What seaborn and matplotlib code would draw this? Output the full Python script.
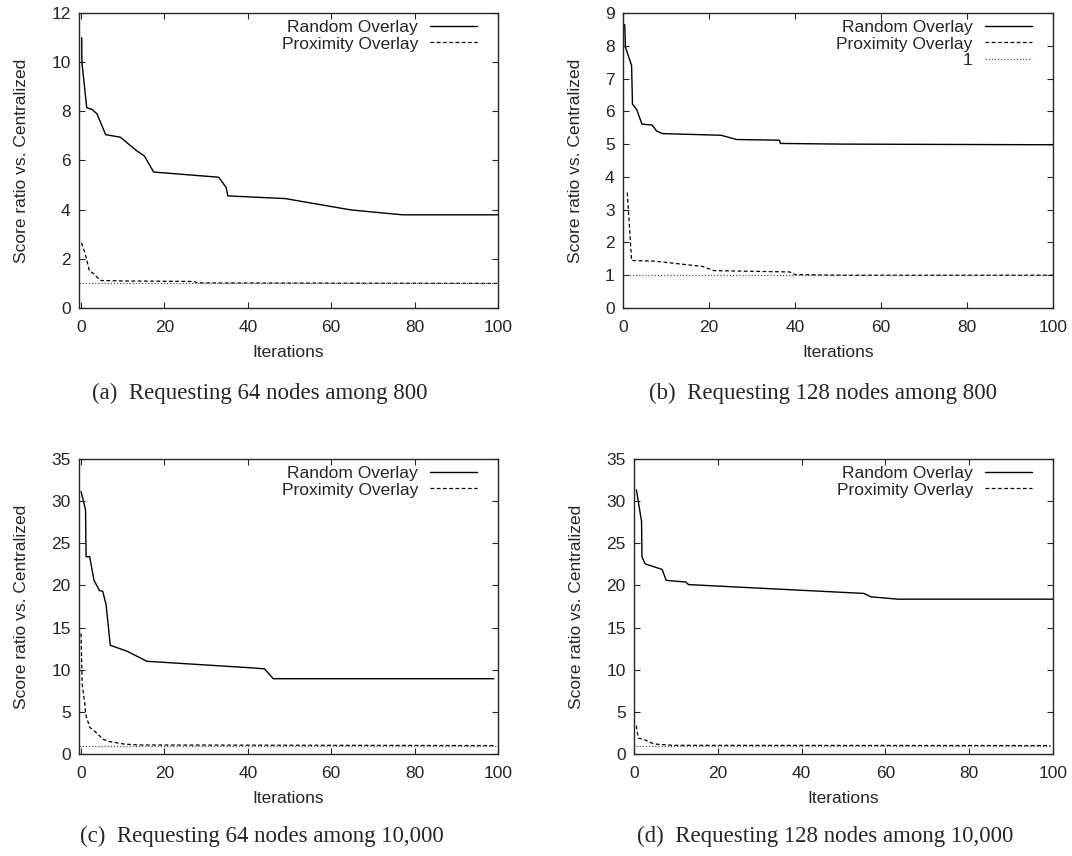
"""
Score ratio of overlay-based node selection vs. the centralized solution,
four panels (64/128 nodes among 800 / 10,000), gnuplot-like look.
"""
import seaborn as sns
import matplotlib.pyplot as plt

# (a) Requesting 64 nodes among 800
a_rand_x = [0.15, 0.2, 1.35, 2.6, 3.8, 5.9, 9.4, 13.3, 15.2, 17.4, 33.0, 34.8, 35.2, 49.0, 64.7, 77.1, 100.0]
a_rand_y = [11.0, 10.0, 8.15, 8.08, 7.9, 7.05, 6.95, 6.4, 6.18, 5.53, 5.32, 4.9, 4.56, 4.45, 3.99, 3.79, 3.79]
a_prox_x = [0.1, 1.0, 2.0, 3.0, 4.6, 10.0, 27.0, 28.0, 100.0]
a_prox_y = [2.65, 2.2, 1.5, 1.4, 1.12, 1.1, 1.08, 1.02, 1.0]
a_one_x = [-0.5, 100.0]

# (b) Requesting 128 nodes among 800
b_rand_x = [0.4, 0.56, 2.0, 2.2, 3.2, 4.4, 6.8, 7.8, 9.2, 22.8, 26.4, 36.4, 36.6, 51.0, 100.0]
b_rand_y = [8.65, 7.96, 7.4, 6.22, 6.05, 5.61, 5.58, 5.4, 5.32, 5.27, 5.14, 5.12, 5.02, 5.0, 4.98]
b_prox_x = [1.0, 2.0, 7.2, 18.4, 21.2, 38.8, 40.0, 51.0, 100.0]
b_prox_y = [3.52, 1.45, 1.43, 1.27, 1.14, 1.10, 1.02, 1.0, 1.0]
b_one_x = [0.0, 100.0]

# (c) Requesting 64 nodes among 10,000
c_rand_x = [0.0, 1.07, 1.2, 2.07, 3.1, 4.4, 5.2, 6.0, 7.0, 11.0, 15.8, 41.6, 44.0, 46.1, 99.0]
c_rand_y = [31.15, 28.97, 23.4, 23.4, 20.6, 19.4, 19.3, 17.7, 12.9, 12.2, 11.0, 10.2, 10.1, 8.93, 8.93]
c_prox_x = [0.0, 0.25, 0.9, 1.07, 2.07, 3.55, 4.4, 5.0, 6.9, 10.2, 13.5, 99.5]
c_prox_y = [14.3, 8.3, 5.95, 4.76, 3.17, 2.58, 2.18, 1.79, 1.47, 1.19, 1.07, 1.0]
c_one_x = [-0.5, 99.5]

# (d) Requesting 128 nodes among 10,000
d_rand_x = [0.57, 1.8, 1.9, 2.6, 3.0, 6.7, 7.7, 12.4, 13.0, 54.9, 56.5, 63.0, 100.0]
d_rand_y = [31.35, 27.6, 23.4, 22.6, 22.5, 21.9, 20.6, 20.4, 20.1, 19.05, 18.65, 18.37, 18.37]
d_prox_x = [0.57, 1.0, 2.6, 3.4, 4.7, 9.2, 99.4]
d_prox_y = [3.37, 1.9, 1.67, 1.5, 1.19, 1.03, 1.0]
d_one_x = [0.5, 99.5]

captions = ["(a)  Requesting 64 nodes among 800",
            "(b)  Requesting 128 nodes among 800",
            "(c)  Requesting 64 nodes among 10,000",
            "(d)  Requesting 128 nodes among 10,000"]

W, H = 1072, 856
FS = 12.5


def draw(ax, rx, ry, px, py, ox, xlim, ylim, yticks, one_label):
    sns.lineplot(x=rx, y=ry, ax=ax, color="black", lw=1.0, sort=False,
                 estimator=None, label="Random Overlay", legend=False)
    sns.lineplot(x=px, y=py, ax=ax, color="black", lw=0.9, sort=False,
                 estimator=None, linestyle=(0, (3, 2)), label="Proximity Overlay", legend=False)
    sns.lineplot(x=ox, y=[1, 1], ax=ax, color="#555555", lw=0.9, sort=False,
                 estimator=None, linestyle=(0, (1, 1.5)), label=one_label, legend=False)
    ax.set_xlim(*xlim)
    ax.set_ylim(*ylim)
    ax.set_xticks([0, 20, 40, 60, 80, 100])
    ax.set_yticks(yticks)
    ax.set_xlabel("Iterations", labelpad=7, fontsize=FS)
    ax.set_ylabel("Score ratio vs. Centralized", labelpad=16, fontsize=FS)
    ax.tick_params(direction="in", top=True, right=True, length=4, width=0.8, labelsize=FS)
    ax.tick_params(axis="x", pad=9)
    ax.tick_params(axis="y", pad=6)
    for s in ax.spines.values():
        s.set_linewidth(1.0)
    handles = [l for l in ax.get_lines() if not l.get_label().startswith("_")]
    ax.legend(handles=handles, labels=[h.get_label() for h in handles],
              loc="upper right", bbox_to_anchor=(0.95, 0.978), frameon=False,
              markerfirst=False, borderpad=0, borderaxespad=0, handlelength=2.7,
              handletextpad=0.7, labelspacing=0.1, fontsize=FS)


def main():
    sns.set_style("ticks")
    plt.rcParams["font.family"] = ["Liberation Sans", "DejaVu Sans"]

    fig = plt.figure(figsize=(W / 100, H / 100), dpi=100)
    # axes boxes in pixels: left, top, right, bottom
    boxes = [(79, 13, 498, 308), (623, 13, 1053, 308),
             (79, 459, 498, 754), (634, 459, 1053, 754)]
    axes = [fig.add_axes([l / W, 1 - b / H, (r - l) / W, (b - t) / H]) for l, t, r, b in boxes]

    draw(axes[0], a_rand_x, a_rand_y, a_prox_x, a_prox_y, a_one_x,
         (-0.5, 100), (0, 12), range(0, 13, 2), "_nolegend_")
    draw(axes[1], b_rand_x, b_rand_y, b_prox_x, b_prox_y, b_one_x,
         (0, 100), (0, 9), range(0, 10), "1")
    draw(axes[2], c_rand_x, c_rand_y, c_prox_x, c_prox_y, c_one_x,
         (-0.5, 100), (0, 35), range(0, 36, 5), "_nolegend_")
    draw(axes[3], d_rand_x, d_rand_y, d_prox_x, d_prox_y, d_one_x,
         (0, 100), (0, 35), range(0, 36, 5), "_nolegend_")

    # subfigure captions
    cap_pos = [(260, 393), (823, 393), (262, 836), (825, 836)]
    for (cx, cy), txt in zip(cap_pos, captions):
        fig.text(cx / W, 1 - cy / H, txt, ha="center", va="center",
                 fontsize=16.5, family=["Liberation Serif", "DejaVu Serif"])

    fig.savefig("out.png", dpi=100)
    plt.close(fig)


if __name__ == "__main__":
    main()
